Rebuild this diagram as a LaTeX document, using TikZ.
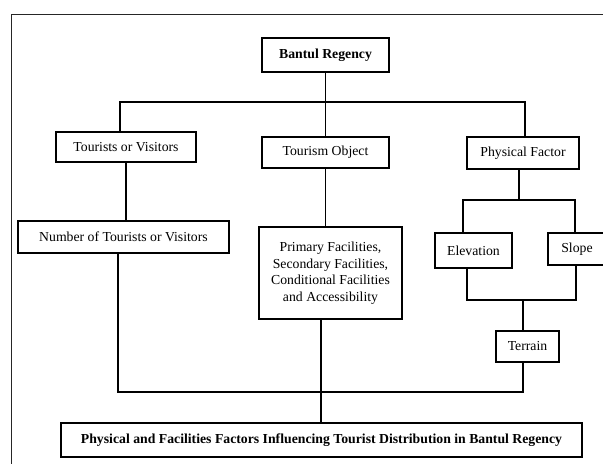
\documentclass[tikz,border=0pt]{standalone}
\usepackage{fontspec}
\setmainfont{Liberation Serif}
\usepackage{tikz}
\usetikzlibrary{calc,positioning}
\newcommand{\boxfont}{\fontsize{13.8}{16.6}\selectfont}

\begin{document}
\begin{tikzpicture}[x=1bp,y=-1bp,
    factorbox/.style={draw, line width=1.8bp, fill=white, inner sep=2bp, font=\boxfont, align=center},
    link/.style={line width=1.6bp}]
          \useasboundingbox (0,0) rectangle (603,464);
          \draw[line width=1bp, black!85] (11,470) -- (11,15) -- (610,15);

          \node[factorbox, font=\boxfont\bfseries, minimum width=127, minimum height=34] (bantul) at (325.5,55) {Bantul Regency};
          \node[factorbox, minimum width=140, minimum height=30] (tourists) at (126,147) {Tourists or Visitors};
          \node[factorbox, minimum width=127, minimum height=31] (object) at (325.5,152.5) {Tourism Object};
          \node[factorbox, minimum width=112, minimum height=32] (physical) at (523,153) {Physical Factor};
          \node[factorbox, minimum width=211, minimum height=32] (number) at (123.5,237) {Number of Tourists or Visitors};
          \node[factorbox, minimum width=143, minimum height=92] (facilities) at (330.5,273) {Primary Facilities,\\ Secondary Facilities,\\ Conditional Facilities\\ and Accessibility};
          \node[factorbox, minimum width=77, minimum height=35] (elevation) at (473.5,250.5) {Elevation};
          \node[factorbox, minimum width=58, minimum height=32] (slope) at (577,249) {Slope};
          \node[factorbox, minimum width=63, minimum height=31] (terrain) at (527.5,346.5) {Terrain};
          \node[factorbox, font=\boxfont\bfseries, minimum width=523, minimum height=34] (result) at (321.5,440) {Physical and Facilities Factors Influencing Tourist Distribution in Bantul Regency};

          \coordinate (topL) at (120,102);
          \coordinate (topR) at (525,102);
          \coordinate (botL) at (118,392);
          \coordinate (botR) at (523,392);
          \coordinate (midB) at (321,392);
          \coordinate (physJ) at (519,200);
          \coordinate (elevJ) at (463,200);
          \coordinate (slopeJ) at (575,200);
          \coordinate (elevK) at (467,300);
          \coordinate (slopeK) at (576,300);
          \coordinate (terrJ) at (523,300);

          \draw[link] (bantul.south) -- (bantul.south |- object.north);
          \draw[link] (topL |- tourists.north) -- (topL) -- (topR) -- (topR |- physical.north);
          \draw[link] (tourists.south) -- (tourists.south |- number.north);
          \draw[link] (botL |- number.south) -- (botL) -- (botR) -- (botR |- terrain.south);
          \draw[link] (object.south) -- (object.south |- facilities.north);
          \draw[link] (midB |- facilities.south) -- (midB |- result.north);

          \draw[link] (physJ |- physical.south) -- (physJ);
          \draw[link] (elevJ |- elevation.north) -- (elevJ) -- (slopeJ) -- (slopeJ |- slope.north);
          \draw[link] (elevK |- elevation.south) -- (elevK) -- (slopeK) -- (slopeK |- slope.south);
          \draw[link] (terrJ) -- (terrJ |- terrain.north);
        \end{tikzpicture}
\end{document}
